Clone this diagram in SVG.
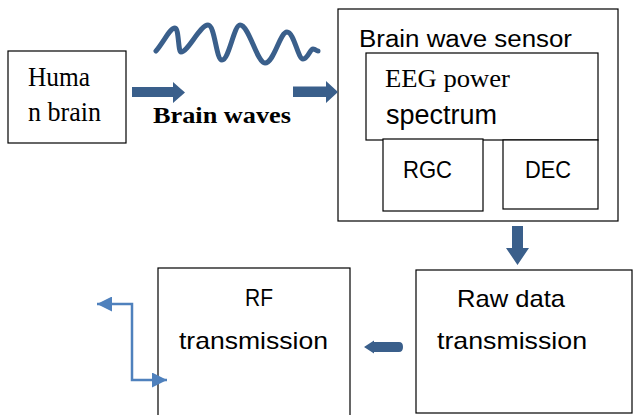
<svg xmlns="http://www.w3.org/2000/svg" width="633" height="415" viewBox="0 0 633 415">
<style>
.box{fill:#fff;stroke:#000;stroke-width:1.2}
.serif{font-family:"Liberation Serif","Times New Roman",serif;fill:#000}
.sans{font-family:"Liberation Sans",Arial,sans-serif;fill:#000}
.thick{fill:#3a5f8b}
.thin{fill:none;stroke:#4f81bd;stroke-width:2.5}
.s27{font-size:27px}
.s25{font-size:25px}
.s24{font-size:24px}
.s23{font-size:23px}
</style>
<defs>
<marker id="ah" markerUnits="userSpaceOnUse" markerWidth="15" markerHeight="15" refX="15" refY="7.5" orient="auto-start-reverse">
<path d="M0,0 L15,7.5 L0,15 z" fill="#4f81bd"/>
</marker>
</defs>
<rect width="633" height="415" fill="#fff"/>
<g id="human-brain">
<rect class="box" x="8" y="51" width="118" height="92"/>
<text class="serif s27" x="28" y="86" textLength="62" lengthAdjust="spacingAndGlyphs">Huma</text>
<text class="serif s27" x="28" y="121" textLength="73" lengthAdjust="spacingAndGlyphs">n brain</text>
</g>
<g id="brain-waves">
<path d="M156,51 C165,40 170,28 175,28 C179,28 178,52 181,52 C188,52 200,25 208,25 C215,25 216,60 222,60 C229,60 234,25 240,25 C249,25 257,63 265,63 C274,63 280,32 287,32 C294,32 298,59 303,59 C308,59 310,49 313,49 C316,49 316,51 318,51" fill="none" stroke="#3a5f8b" stroke-width="5" stroke-linecap="round" stroke-linejoin="round"/>
<text class="serif s24" x="153" y="123" font-weight="bold" textLength="138" lengthAdjust="spacingAndGlyphs">Brain waves</text>
</g>
<g id="sensor">
<rect class="box" x="338" y="9" width="280" height="212"/>
<text class="sans s23" x="359" y="47" textLength="213" lengthAdjust="spacingAndGlyphs">Brain wave sensor</text>
</g>
<g id="eeg">
<rect class="box" x="366" y="53" width="232" height="87"/>
<text class="serif s25" x="385" y="87" textLength="125" lengthAdjust="spacingAndGlyphs">EEG power</text>
<text class="sans s27" x="386" y="124" textLength="111" lengthAdjust="spacingAndGlyphs">spectrum</text>
</g>
<g id="rgc">
<rect class="box" x="383" y="139" width="100" height="72"/>
<text class="sans s24" x="403" y="178" textLength="49" lengthAdjust="spacingAndGlyphs">RGC</text>
</g>
<g id="dec">
<rect class="box" x="503" y="140" width="95" height="69"/>
<text class="sans s24" x="525" y="178" textLength="46" lengthAdjust="spacingAndGlyphs">DEC</text>
</g>
<g id="raw-data">
<rect class="box" x="416" y="270" width="216" height="143"/>
<text class="sans s24" x="457" y="307" textLength="108" lengthAdjust="spacingAndGlyphs">Raw data</text>
<text class="sans s24" x="437" y="349" textLength="150" lengthAdjust="spacingAndGlyphs">transmission</text>
</g>
<g id="rf">
<rect class="box" x="158" y="268" width="192" height="160"/>
<text class="sans s24" x="245" y="306" textLength="28" lengthAdjust="spacingAndGlyphs">RF</text>
<text class="sans s24" x="179" y="349" textLength="149" lengthAdjust="spacingAndGlyphs">transmission</text>
</g>
<g id="connectors">
<polygon class="thick" points="132,87 173,87 173,82 185,92.5 173,103 173,97 132,97"/>
<polygon class="thick" points="293,86.5 326,86.5 326,81 338,92 326,103 326,97 293,97"/>
<polygon class="thick" points="512,226 523,226 523,248 529,248 517.5,265 506,248 512,248"/>
<path class="thick" d="M399,342 L374,342 L374,340.5 L364,347 L374,353.5 L374,352 L399,352 Q403,352 403,347 Q403,342 399,342 Z"/>
<path class="thin" d="M167,380 L132,380 L132,304 L97,304" marker-start="url(#ah)" marker-end="url(#ah)"/>
</g>
</svg>
